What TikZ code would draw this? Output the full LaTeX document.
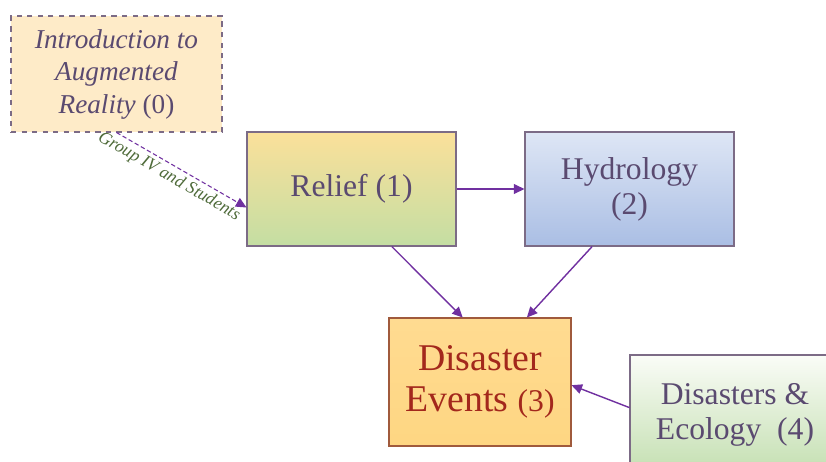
\documentclass[tikz,border=0pt]{standalone}
\usepackage{fontspec}
\setmainfont{Liberation Serif}
\usetikzlibrary{arrows.meta}
\definecolor{boxline}{HTML}{7C6B86}
\definecolor{arrowcol}{HTML}{7030A0}
\definecolor{labtext}{HTML}{5A4A70}
\definecolor{redtext}{HTML}{A3281C}
\definecolor{grouptext}{HTML}{4F6B3A}
\begin{document}
\begin{tikzpicture}[x=0.02cm,y=-0.02cm,
  box/.style={draw=boxline,line width=0.6pt,align=center,text=labtext,inner sep=2pt},
  link/.style={draw=arrowcol,line width=0.8pt,-{Triangle[length=6pt,width=5.5pt]}}]
\clip (0,0) rectangle (826,461);
\fill[white] (0,0) rectangle (826,461);
\node[box,dashed,fill={rgb,255:red,254;green,235;blue,200},minimum width=4.22cm,minimum height=2.32cm,
  font=\fontsize{15.5}{18.5}\selectfont] (intro) at (116.5,74)
  {\textit{Introduction to}\\ \textit{Augmented}\\ \textit{Reality} (0)};
\node[box,top color={rgb,255:red,251;green,224;blue,154},bottom color={rgb,255:red,196;green,222;blue,163},
  minimum width=4.18cm,minimum height=2.28cm,font=\fontsize{18}{20}\selectfont] (relief) at (351.5,189) {Relief (1)};
\node[box,top color={rgb,255:red,222;green,230;blue,245},bottom color={rgb,255:red,170;green,190;blue,228},
  minimum width=4.18cm,minimum height=2.28cm,font=\fontsize{18}{20}\selectfont] (hydro) at (629.5,189) {Hydrology\\ (2)};
\node[box,draw={rgb,255:red,160;green,90;blue,60},top color={rgb,255:red,255;green,219;blue,145},bottom color={rgb,255:red,254;green,214;blue,130},
  text=redtext,minimum width=3.64cm,minimum height=2.56cm,font=\fontsize{21.5}{23}\selectfont] (events) at (480,382)
  {Disaster\\ Events {\fontsize{18}{20}\selectfont(3)}};
\node[box,top color={rgb,255:red,250;green,252;blue,247},bottom color={rgb,255:red,195;green,223;blue,176},
  minimum width=4.2cm,minimum height=2.4cm,font=\fontsize{18}{20}\selectfont] (ecology) at (735,415)
  {Disasters \&\\ Ecology~ (4)};
\draw[link,dash pattern=on 2.5pt off 1.5pt,line width=0.6pt] (intro.south) -- node[sloped,below,pos=0.45,inner sep=2pt,text=grouptext,
  font=\fontsize{10}{11}\itshape] {Group IV and Students} (relief.190);
\draw[link] (relief.east) -- (hydro.west);
\draw[link] (relief.305) -- (events.105);
\draw[link] (hydro.237) -- (events.54);
\draw[link] (ecology.176) -- (events.358);
\end{tikzpicture}
\end{document}
